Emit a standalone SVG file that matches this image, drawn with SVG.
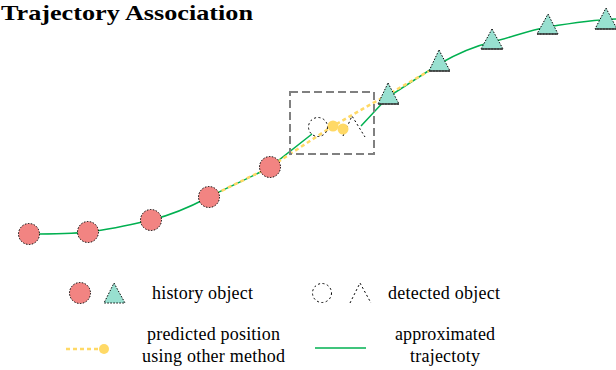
<svg xmlns="http://www.w3.org/2000/svg" width="616" height="370" viewBox="0 0 616 370">
<defs>
<style>
.hist-c{fill:#F28482;stroke:#000;stroke-width:1;stroke-dasharray:1.5 1.5}
.hist-t{fill:#98E0D0;stroke:#000;stroke-width:1;stroke-dasharray:1.5 1.5}
.base{stroke:#333;stroke-width:1.5}
.det{fill:none;stroke:#000;stroke-width:1;stroke-dasharray:2 2.5}
.traj{fill:none;stroke:#00B050;stroke-width:1.5}
.pred{fill:none;stroke:#FFD966;stroke-width:2.5;stroke-dasharray:4 3}
.dot{fill:#FFD966}
text{font-family:'Liberation Serif','Times New Roman',serif}
.lbl{font-size:18px;fill:#000}
.title{font-size:22px;font-weight:bold;fill:#000}
</style>
</defs>
<text class="title" x="1" y="20" textLength="252" lengthAdjust="spacingAndGlyphs">Trajectory Association</text>

<g id="connectors">
<path class="traj" d="M29,234 C50,234 70,234 88,232 S130,225 151,220 S190,207 209,197 S250,178 270,167 L312,134"/>
<path class="traj" d="M361,126 L388,97 L439,64 C460,52 475,46 492,42 S530,30 548,27 S590,20 616,19"/>
<polyline class="pred" points="209,197 270,167 333,126 429,71"/>
<line class="traj" x1="315" y1="348" x2="366" y2="348"/>
<line class="pred" x1="66" y1="349" x2="100" y2="349"/>
</g>

<g id="search-box">
<rect x="290" y="92" width="84" height="62" fill="none" stroke="#808080" stroke-width="2" stroke-dasharray="8 4"/>
</g>

<g id="history-circles">
<circle class="hist-c" cx="29" cy="234" r="10.5"/>
<circle class="hist-c" cx="88" cy="232" r="10.5"/>
<circle class="hist-c" cx="151" cy="220" r="10.5"/>
<circle class="hist-c" cx="209" cy="197" r="10.5"/>
<circle class="hist-c" cx="270" cy="167" r="10.5"/>
</g>

<g id="history-triangles">
<polygon class="hist-t" points="388,83 399,104 378,104"/><line class="base" x1="378" y1="104" x2="399" y2="104"/>
<polygon class="hist-t" points="439,50 450,71 429,71"/><line class="base" x1="429" y1="71" x2="450" y2="71"/>
<polygon class="hist-t" points="492,29 503,49 481,49"/><line class="base" x1="481" y1="49" x2="503" y2="49"/>
<polygon class="hist-t" points="548,14 558,34 537,34"/><line class="base" x1="537" y1="34" x2="558" y2="34"/>
<polygon class="hist-t" points="606,8 617,29 595,29"/><line class="base" x1="595" y1="29" x2="617" y2="29"/>
</g>

<g id="detected">
<circle class="det" cx="318" cy="127" r="9.5"/>
<polyline class="det" points="343,136 352,116 365,137"/>
</g>

<g id="predicted-dots">
<circle class="dot" cx="333" cy="126" r="5.5"/>
<circle class="dot" cx="343" cy="129" r="5.5"/>
</g>

<g id="legend-history">
<circle class="hist-c" cx="80" cy="293" r="10.5"/>
<polygon class="hist-t" points="114,283 125,303 104,303"/>
<text class="lbl" x="152" y="299" textLength="101">history object</text>
</g>
<g id="legend-detected">
<circle class="det" cx="322" cy="293" r="9.5"/>
<polyline class="det" points="350,303 360,283 371,303"/>
<text class="lbl" x="388" y="299" textLength="112">detected object</text>
</g>
<g id="legend-predicted">
<circle class="dot" cx="104" cy="349" r="5"/>
<text class="lbl" x="147" y="340" textLength="133">predicted position</text>
<text class="lbl" x="142" y="362" textLength="143">using other method</text>
</g>
<g id="legend-trajectory">
<text class="lbl" x="395" y="340" textLength="100">approximated</text>
<text class="lbl" x="410" y="362" textLength="70">trajectoty</text>
</g>
</svg>
